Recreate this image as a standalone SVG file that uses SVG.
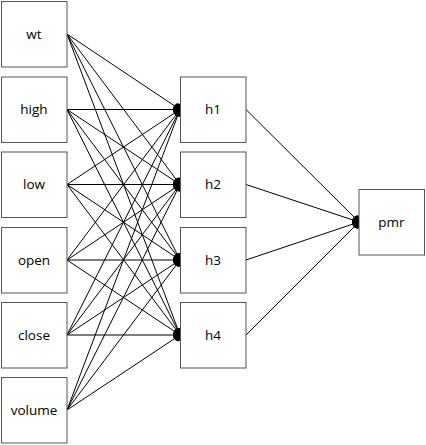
<svg xmlns="http://www.w3.org/2000/svg" width="426" height="445" viewBox="0 0 426 445">
<style>
.box{fill:#fff;stroke:#555;stroke-width:1}
.lbl{font-family:"Open Sans","Liberation Sans",sans-serif;font-size:13.5px;fill:#000;text-anchor:middle}
.e{stroke:#000;stroke-width:1;fill:none;marker-end:url(#dot)}
</style>
<defs>
<marker id="dot" viewBox="0 0 9 10" refX="9" refY="5" markerWidth="9" markerHeight="10" markerUnits="userSpaceOnUse" orient="auto">
<ellipse cx="5.5" cy="5" rx="3.5" ry="4.5" fill="#000"/>
</marker>
</defs>
<rect width="426" height="445" fill="#fff"/>
<g id="connectors">
<path class="e" d="M67,34 L180,109.5"/>
<path class="e" d="M67,34 L180,184.5"/>
<path class="e" d="M67,34 L180,260"/>
<path class="e" d="M67,34 L180,335"/>
<path class="e" d="M67,109.5 L180,109.5"/>
<path class="e" d="M67,109.5 L180,184.5"/>
<path class="e" d="M67,109.5 L180,260"/>
<path class="e" d="M67,109.5 L180,335"/>
<path class="e" d="M67,184.5 L180,109.5"/>
<path class="e" d="M67,184.5 L180,184.5"/>
<path class="e" d="M67,184.5 L180,260"/>
<path class="e" d="M67,184.5 L180,335"/>
<path class="e" d="M67,260 L180,109.5"/>
<path class="e" d="M67,260 L180,184.5"/>
<path class="e" d="M67,260 L180,260"/>
<path class="e" d="M67,260 L180,335"/>
<path class="e" d="M67,335 L180,109.5"/>
<path class="e" d="M67,335 L180,184.5"/>
<path class="e" d="M67,335 L180,260"/>
<path class="e" d="M67,335 L180,335"/>
<path class="e" d="M67,410 L180,109.5"/>
<path class="e" d="M67,410 L180,184.5"/>
<path class="e" d="M67,410 L180,260"/>
<path class="e" d="M67,410 L180,335"/>
<path class="e" d="M246,109.5 L359,222"/>
<path class="e" d="M246,184.5 L359,222"/>
<path class="e" d="M246,260 L359,222"/>
<path class="e" d="M246,335 L359,222"/>
</g>
<g id="wt"><rect class="box" x="1.5" y="1.5" width="65.5" height="65.5"/><text class="lbl" x="34" y="39">wt</text></g>
<g id="high"><rect class="box" x="1.5" y="77" width="65.5" height="65.5"/><text class="lbl" x="34" y="114">high</text></g>
<g id="low"><rect class="box" x="1.5" y="152" width="65.5" height="65.5"/><text class="lbl" x="34" y="189">low</text></g>
<g id="open"><rect class="box" x="1.5" y="227.5" width="65.5" height="65.5"/><text class="lbl" x="34" y="264.5">open</text></g>
<g id="close"><rect class="box" x="1.5" y="302.5" width="65.5" height="65.5"/><text class="lbl" x="34" y="339.5">close</text></g>
<g id="volume"><rect class="box" x="1.5" y="377.5" width="65.5" height="65.5"/><text class="lbl" x="34" y="414.5">volume</text></g>
<g id="h1"><rect class="box" x="180.5" y="77" width="65.5" height="65.5"/><text class="lbl" x="213" y="114">h1</text></g>
<g id="h2"><rect class="box" x="180.5" y="152" width="65.5" height="65.5"/><text class="lbl" x="213" y="189">h2</text></g>
<g id="h3"><rect class="box" x="180.5" y="227.5" width="65.5" height="65.5"/><text class="lbl" x="213" y="264.5">h3</text></g>
<g id="h4"><rect class="box" x="180.5" y="302.5" width="65.5" height="65.5"/><text class="lbl" x="213" y="339.5">h4</text></g>
<g id="pmr"><rect class="box" x="359" y="189.5" width="65.5" height="65.5"/><text class="lbl" x="391.5" y="226.5">pmr</text></g>
</svg>
